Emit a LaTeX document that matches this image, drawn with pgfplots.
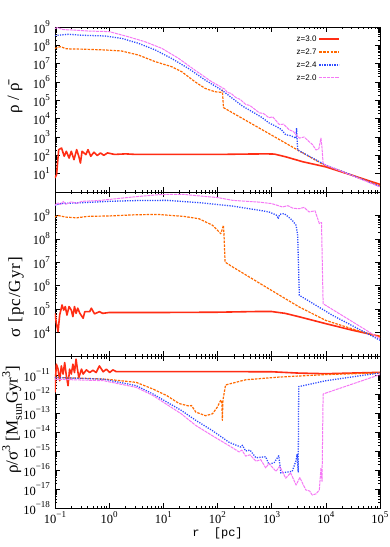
\documentclass[border=0pt]{standalone}
\usepackage{pgfplots}
\pgfplotsset{compat=1.18}
\usepackage{fontspec}
\setmainfont{Liberation Serif}
\setsansfont{Liberation Sans}
\setmonofont{Liberation Mono}
\newfontfamily\widefont[LetterSpace=6]{Liberation Serif}

\definecolor{c30}{RGB}{255,45,20}
\definecolor{c27}{RGB}{255,105,0}
\definecolor{c24}{RGB}{45,75,255}
\definecolor{c20}{RGB}{245,120,245}

% tick label 10^n in the text font
\newcommand{\tl}[1]{10\raisebox{0.5em}{\fontsize{9}{9}\selectfont #1}}
\newcommand{\sups}[1]{\raisebox{0.45em}{\fontsize{12}{12}\selectfont #1}}

\pgfplotsset{
  every axis/.append style={
    scale only axis, width=325pt,
    xmin=0.1, xmax=1e5,
    xtick={1e-1,1,1e1,1e2,1e3,1e4,1e5}, xticklabels={},
    tick align=inside, major tick length=5pt, minor tick length=2.5pt,
    tick style={black, line width=0.5pt},
    axis line style={line width=0.7pt},
    ticklabel style={font=\fontsize{12.5}{12.5}\selectfont},
    yticklabel style={xshift=-1.5pt},
    ylabel style={font=\fontsize{17}{17}\selectfont, anchor=center},
  },
}
\tikzset{
  s30/.style={color=c30, line width=1.6pt, solid, line join=round},
  s27/.style={color=c27, line width=1.2pt, dash pattern=on 2.5pt off 1.2pt, line join=round},
  s24/.style={color=c24, line width=1.3pt, dash pattern=on 1.2pt off 1.3pt, line join=round},
  s20/.style={color=c20, line width=1.0pt, dash pattern=on 3pt off 0.8pt, line join=round},
}

\begin{document}
\begin{tikzpicture}
\useasboundingbox (-55pt,-39pt) rectangle (335pt,508pt);

% ---------------- top: density contrast
\begin{loglogaxis}[at={(0pt,316pt)}, height=165pt,
  ymin=1, ymax=1e9,
  ytick={1e1,1e2,1e3,1e4,1e5,1e6,1e7,1e8,1e9},
  yticklabels={\tl{1},\tl{2},\tl{3},\tl{4},\tl{5},\tl{6},\tl{7},\tl{8},\tl{9}},
  ylabel={ρ / ρ̄},
  ylabel style={at={(rel axis cs:-0.123,0.57)}},
  legend style={draw=none, fill=none, at={(rel axis cs:0.882,0.965)},
    anchor=north east, font=\fontsize{8}{8}\sffamily, row sep=1.8pt, inner sep=1pt},
  legend plot pos=right, legend cell align=right,
  legend image code/.code={\draw[#1] (0pt,0.5pt) -- (20pt,0.5pt);},
]
\addlegendimage{draw=c30, line width=2pt, solid}
\addlegendentry{z=3.0}
\addlegendimage{draw=c27, line width=1.5pt, dash pattern=on 2.5pt off 1.2pt}
\addlegendentry{z=2.7}
\addlegendimage{draw=c24, line width=1.6pt, dash pattern=on 1.2pt off 1.3pt}
\addlegendentry{z=2.4}
\addlegendimage{draw=c20, line width=1.4pt, dash pattern=on 3pt off 0.8pt}
\addlegendentry{z=2.0}
\addplot[s30, forget plot] coordinates {
(0.1,5.8) (0.107,8.9) (0.117,204) (0.132,251) (0.148,89) (0.162,166) (0.182,71)
(0.2,166) (0.224,58) (0.251,204) (0.275,89) (0.295,38) (0.316,166) (0.372,110)
(0.407,204) (0.457,89) (0.525,148) (0.603,98) (0.692,135) (0.794,100) (0.933,135)
(1.26,112) (2.0,120) (3.16,112) (10,112) (100,112) (316,117) (794,120) (1122,117)
(1820,83) (3715,45) (1e4,23.4) (30900,8.1) (1e5,2.6)};
\addplot[s27, forget plot] coordinates {
(0.1,6.9e7) (0.126,8.5e7) (0.158,6.6e7) (0.2,6.3e7) (0.316,6.2e7) (0.83,5.6e7)
(1.7,4.9e7) (3.47,2.95e7) (7.08,1.29e7) (14.1,6.9e6) (21.9,3.63e6) (38,1.05e6)
(58.9,4.5e5) (89,2.95e5) (115,2.75e5) (123,3.6e5) (129,4e4) (3020,195) (8710,33)
(1e4,27.5) (31600,7.9) (1e5,2.1)};
\addplot[s24, forget plot] coordinates {
(0.1,3.4e8) (0.178,4.0e8) (0.316,3.55e8) (0.83,3.24e8) (1.7,2.4e8) (3.47,1.29e8)
(7.08,5.6e7) (14.1,1.95e7) (28.8,5.6e6) (58.9,1.29e6) (120,3.6e5) (288,4.9e4)
(500,1.9e4) (650,1.2e4) (891,5900) (1200,3800) (1500,2600) (1820,1320) (2200,1200)
(2820,870) (2880,3100) (3020,195) (1e4,29) (31600,7.9) (1e5,2.0)};
\addplot[s20, forget plot] coordinates {
(0.1,8.3e8) (0.112,9.3e8) (0.141,7.2e8) (0.2,6.9e8) (0.417,6.0e8) (1,5.6e8)
(2.24,2.95e8) (4.57,1.58e8) (9.33,6.9e7) (19.1,1.95e7) (38,4.5e6) (77.6,1.05e6)
(138,4e5) (151,2.7e5) (178,2.4e5) (219,1.41e5) (263,1.12e5) (331,6e4) (398,5.2e4)
(589,2.1e4) (708,1.9e4) (891,1.12e4) (1047,1.26e4) (1380,4800) (1660,5000)
(2090,2500) (2510,2000) (3240,870) (3980,1000) (4900,560) (5620,400) (6610,195)
(7410,224) (8130,870) (8510,250) (8910,35) (1e4,29) (31600,7.6) (1e5,1.9)};
\end{loglogaxis}

% ---------------- middle: velocity dispersion
\begin{loglogaxis}[at={(0pt,152pt)}, height=164pt,
  ymin=1e3, ymax=1e10,
  ytick={1e4,1e5,1e6,1e7,1e8,1e9},
  yticklabels={\tl{4},\tl{5},\tl{6},\tl{7},\tl{8},\tl{9}},
  ylabel={\widefont σ [pc/Gyr]},
  ylabel style={at={(rel axis cs:-0.12,0.36)}},
]
\addplot[s30] coordinates {
(0.1,6.6e4) (0.106,2.5e4) (0.114,1.1e4) (0.122,5.6e4) (0.135,1.5e5) (0.145,9.1e4)
(0.155,1.29e5) (0.166,5.6e4) (0.182,1.29e5) (0.2,9.1e4) (0.214,4.8e4) (0.229,1.29e5)
(0.245,6.6e4) (0.263,1.1e5) (0.288,6.6e4) (0.331,4.1e4) (0.355,7.8e4) (0.437,7.8e4)
(0.468,1.1e5) (0.537,6.3e4) (0.66,7.8e4) (0.76,6.6e4) (1,7.2e4) (10,7.2e4)
(100,7.4e4) (501,7.9e4) (1000,7.9e4) (1780,6.6e4) (3240,4.7e4) (1e4,2.4e4)
(30900,1.26e4) (1e5,6.9e3)};
\addplot[s27] coordinates {
(0.1,8.5e8) (0.112,1.0e9) (0.158,8.5e8) (0.251,7.9e8) (0.398,9.1e8) (1,9.5e8)
(3.16,1.07e9) (7.94,1.1e9) (24,9.1e8) (45.7,7.2e8) (81,3.8e8) (115,1.66e8)
(129,3.8e8) (132,1.41e8) (138,1.02e7) (191,6.3e6) (776,8.9e5) (3240,1.23e5)
(1e4,3.3e4) (31600,1.41e4) (1e5,6.5e3)};
\addplot[s24] coordinates {
(0.1,2.7e9) (0.126,3.2e9) (0.316,3.5e9) (1,4.0e9) (3.16,4.3e9) (11.7,4.4e9)
(45.7,3.5e9) (191,2.5e9) (589,1.66e9) (891,1.41e9) (1260,1e9) (1320,7.2e8)
(1410,1.12e9) (1700,1.2e9) (2000,8.9e8) (2400,6.2e8) (2820,3.8e8) (3020,1.41e8)
(3240,3.9e5) (13200,5.5e4) (1e5,4.7e3)};
\addplot[s20] coordinates {
(0.1,2.7e9) (0.112,3.5e9) (0.126,2.8e9) (0.141,4e9) (0.158,3e9) (0.2,3.8e9)
(0.251,3.3e9) (0.316,4e9) (0.5,4.2e9) (0.69,4.4e9) (2.88,6.2e9) (8.9,7.8e9)
(24,7.9e9) (45.7,6.8e9) (100,5.8e9) (191,4.4e9) (589,3.7e9) (1000,3.2e9)
(1580,2.3e9) (2000,2.6e9) (2510,2e9) (3240,1.95e9) (3980,2.2e9) (4900,1.41e9)
(6310,1.58e9) (7590,4.5e8) (8320,5e8) (8910,1.7e5) (1e5,5.5e3)};
\end{loglogaxis}

% ---------------- bottom: phase-space density
\begin{loglogaxis}[at={(0pt,0pt)}, height=152pt,
  ymin=1e-18, ymax=1e-10,
  ytick={1e-18,1e-17,1e-16,1e-15,1e-14,1e-13,1e-12,1e-11},
  yticklabels={\tl{−18},\tl{−17},\tl{−16},\tl{−15},\tl{−14},\tl{−13},\tl{−12},\tl{−11}},
  xticklabels={\tl{−1},\tl{0},\tl{1},\tl{2},\tl{3},\tl{4},\tl{5}},
  ylabel={ρ/σ\sups{3} [M\raisebox{-0.25em}{\fontsize{12}{12}\selectfont sun}Gyr\sups{3}]},
  ylabel style={at={(rel axis cs:-0.132,0.58)}},
  xlabel={\ttfamily r\ \ [pc]},
  xlabel style={at={(rel axis cs:0.5,0)}, anchor=center, yshift=-25pt,
    font=\fontsize{12}{12}\selectfont},
]
\addplot[s30] coordinates {
(0.1,1.23e-12) (0.103,9.1e-12) (0.106,3.7e-11) (0.114,2.04e-11) (0.122,5e-12)
(0.131,3.0e-11) (0.141,1.12e-11) (0.151,4.5e-11) (0.162,9.1e-12) (0.174,2.75e-12)
(0.186,2.04e-11) (0.2,1.12e-11) (0.214,3.7e-11) (0.229,1.35e-11) (0.245,6.8e-11)
(0.257,2.45e-11) (0.275,7.4e-12) (0.309,2.04e-11) (0.331,1.12e-11) (0.38,1.86e-11)
(0.437,1.35e-11) (0.501,1.78e-11) (0.575,1.35e-11) (0.66,3.0e-11) (0.776,1.48e-11)
(0.89,2.04e-11) (1.02,1.35e-11) (1.17,1.86e-11) (1.35,1.51e-11) (10,1.51e-11)
(100,1.51e-11) (1000,1.48e-11) (3160,1.26e-11) (1e4,1.17e-11) (1e5,1.38e-11)};
\addplot[s27] coordinates {
(0.1,7.4e-12) (0.316,6.8e-12) (0.89,6.0e-12) (3.16,4.1e-12) (6.46,1.82e-12)
(11.7,8.1e-13) (19.5,3.16e-13) (30.2,2.3e-13) (33,2.5e-13) (39.8,1.12e-13)
(60.3,7.2e-14) (81,9.1e-14) (100,2.1e-13) (115,4.8e-13) (120,4e-13) (123,4.1e-14)
(126,4.8e-13) (141,3.0e-12) (331,5.6e-12) (1380,7.8e-12) (1e4,1.05e-11)
(1e5,1.29e-11)};
\addplot[s24] coordinates {
(0.1,7.4e-12) (0.79,6.0e-12) (3.16,2.75e-12) (6.46,1.0e-12) (11.7,3.7e-13)
(21.4,1.38e-13) (39.8,4.1e-14) (81,1.17e-14) (166,2.8e-15) (269,1.62e-15)
(288,2e-15) (331,1e-15) (398,1.12e-15) (513,4.4e-16) (776,5e-16) (891,1.95e-16)
(1120,2.5e-16) (1350,5.6e-16) (1480,6.9e-17) (2000,7.9e-17) (2400,8.5e-17)
(2820,3.16e-16) (2950,6.6e-16) (3090,7.9e-17) (3160,2.45e-12) (1e4,5e-12)
(1e5,1.29e-11)};
\addplot[s20] coordinates {
(0.1,6.0e-12) (0.79,5e-12) (3.16,2.24e-12) (6.46,8.3e-13) (21.4,9.1e-14)
(39.8,2.2e-14) (81,6.3e-15) (166,1.86e-15) (251,8.9e-16) (282,1.12e-15)
(331,5.4e-16) (398,6.3e-16) (513,2.9e-16) (631,3.5e-16) (776,1.29e-16)
(891,2.2e-16) (1200,8.5e-17) (1410,1.58e-16) (1820,3.7e-17) (2240,7.1e-17)
(2820,1.62e-17) (3310,4e-17) (4270,8.9e-18) (5010,7.9e-18) (5620,4.8e-18)
(6610,5.6e-18) (7590,8.9e-18) (8130,1.29e-16) (8510,2.5e-17) (8910,1e-12)
(1e5,1.05e-11)};
\end{loglogaxis}
\end{tikzpicture}
\end{document}
